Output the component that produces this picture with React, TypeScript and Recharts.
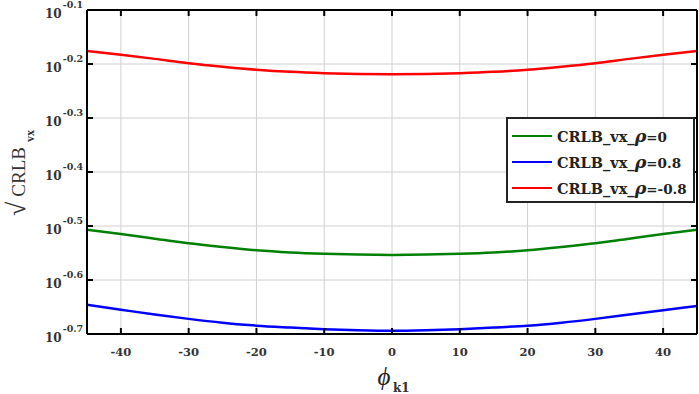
import React from 'react';
import { LineChart, Line, XAxis, YAxis, CartesianGrid, Legend } from 'recharts';

const phiValues = [-45, -40, -35, -30, -25, -20, -15, -10, -5, 0, 5, 10, 15, 20, 25, 30, 35, 40, 45];
// log10 of sqrt(CRLB_vx)
const rhoZero = [-0.507, -0.515, -0.5235, -0.532, -0.539, -0.545, -0.549, -0.5515, -0.553, -0.5535, -0.553, -0.5515, -0.549, -0.545, -0.539, -0.532, -0.5235, -0.515, -0.507];
const rhoPos = [-0.646, -0.655, -0.664, -0.672, -0.679, -0.6845, -0.688, -0.691, -0.693, -0.694, -0.693, -0.691, -0.688, -0.6845, -0.679, -0.672, -0.664, -0.656, -0.648];
const rhoNeg = [-0.176, -0.183, -0.1905, -0.1985, -0.205, -0.2105, -0.2145, -0.217, -0.2185, -0.219, -0.2185, -0.217, -0.2145, -0.2105, -0.205, -0.1985, -0.1905, -0.183, -0.176];

const xTicks = [-40, -30, -20, -10, 0, 10, 20, 30, 40];
const yTicks = [-0.7, -0.6, -0.5, -0.4, -0.3, -0.2, -0.1];
const yTickLabels = ['-0.7', '-0.6', '-0.5', '-0.4', '-0.3', '-0.2', '-0.1'];

const seriesNames = ['CRLB_vx_ρ=0', 'CRLB_vx_ρ=0.8', 'CRLB_vx_ρ=-0.8'];

const data = phiValues.map((p, i) => ({ phi: p, s0: rhoZero[i], s1: rhoPos[i], s2: rhoNeg[i] }));

const FONT = 'DejaVu Serif';

const BottomTick = (props: any) => {
  const { x, y, payload } = props;
  return (
    <g>
      <line x1={x} y1={y} x2={x} y2={y - 6} stroke="#000" strokeWidth={2} />
      <text x={x} y={y + 22} textAnchor="middle" fontFamily={FONT} fontSize={11.5} fontWeight="bold" fill="#333">
        {payload.value}
      </text>
    </g>
  );
};

const TopTick = (props: any) => {
  const { x, y } = props;
  return <line x1={x} y1={y} x2={x} y2={y + 6} stroke="#000" strokeWidth={2} />;
};

const LeftTick = (props: any) => {
  const { x, y, payload } = props;
  const idx = yTicks.findIndex((t) => Math.abs(t - payload.value) < 1e-9);
  const label = idx >= 0 ? yTickLabels[idx] : String(payload.value);
  return (
    <g>
      <line x1={x} y1={y} x2={x + 6} y2={y} stroke="#000" strokeWidth={2} />
      <text x={x - 42} y={y + 8} textAnchor="start" fontFamily={FONT} fontSize={12} fontWeight="bold" fill="#333">
        10
        <tspan dx={1} dy={-10} fontSize={9.5}>{label}</tspan>
      </text>
    </g>
  );
};

const RightTick = (props: any) => {
  const { x, y } = props;
  return <line x1={x} y1={y} x2={x - 6} y2={y} stroke="#000" strokeWidth={2} />;
};

const LegendContent = (props: any) => {
  const payload = [...(props.payload || [])].sort(
    (a: any, b: any) => seriesNames.indexOf(a.value) - seriesNames.indexOf(b.value)
  );
  return (
    <div
      style={{
        border: '2px solid #222',
        background: '#fff',
        width: 189,
        height: 86,
        boxSizing: 'border-box',
        paddingTop: 4,
      }}
    >
      {payload.map((entry: any) => {
        const name: string = entry.value;
        const parts = name.split('ρ');
        return (
          <div key={name} style={{ display: 'flex', alignItems: 'center', height: 26 }}>
            <div style={{ width: 40, height: 2.5, background: entry.color, marginLeft: 4, marginRight: 5 }} />
            <span style={{ fontFamily: FONT, fontSize: 14.5, fontWeight: 'bold', color: '#222', whiteSpace: 'nowrap' }}>
              {parts[0]}
              <span style={{ fontStyle: 'italic', fontSize: 17.5 }}>ρ</span>
              <span style={{ fontSize: 13.5 }}>{parts[1]}</span>
            </span>
          </div>
        );
      })}
    </div>
  );
};

const YLabel = () => (
  <g transform="translate(25, 216) rotate(-90)">
    <text x={0} y={0} fontFamily="Liberation Serif" fill="#333">
      <tspan fontSize={26}>√</tspan>
      <tspan dx={5} fontSize={19}>CRLB</tspan>
      <tspan dx={5} dy={9} fontSize={12} fontWeight="bold">vx</tspan>
    </text>
  </g>
);

const XLabel = () => (
  <g>
    <text x={384} y={385} textAnchor="middle" fontFamily="Liberation Serif" fontStyle="italic" fontSize={25} fill="#222">
      ϕ
    </text>
    <text x={393} y={392} textAnchor="start" fontFamily={FONT} fontSize={12} fontWeight="bold" fill="#333">
      k1
    </text>
  </g>
);

export default function App() {
  return (
    <div style={{ position: 'absolute', left: 0, top: 0, width: 699, height: 394, background: '#fff' }}>
      <LineChart width={699} height={394} data={data} margin={{ top: 9, right: 1, bottom: 59, left: 86 }}>
        <CartesianGrid stroke="#d0d0d0" strokeWidth={1} />
        <XAxis
          dataKey="phi"
          type="number"
          domain={[-45, 45]}
          ticks={xTicks}
          height={1}
          tickSize={0}
          tickMargin={0}
          tickLine={false}
          axisLine={{ stroke: '#000', strokeWidth: 2 }}
          tick={<BottomTick />}
          interval={0}
          allowDataOverflow
        />
        <XAxis
          xAxisId="top"
          orientation="top"
          dataKey="phi"
          type="number"
          domain={[-45, 45]}
          ticks={xTicks}
          height={1}
          tickSize={0}
          tickMargin={0}
          tickLine={false}
          axisLine={{ stroke: '#000', strokeWidth: 2 }}
          tick={<TopTick />}
          interval={0}
          allowDataOverflow
        />
        <YAxis
          type="number"
          domain={[-0.7, -0.1]}
          ticks={yTicks}
          width={1}
          tickSize={0}
          tickMargin={0}
          tickLine={false}
          axisLine={{ stroke: '#000', strokeWidth: 2 }}
          tick={<LeftTick />}
          interval={0}
          allowDataOverflow
        />
        <YAxis
          yAxisId="right"
          orientation="right"
          type="number"
          domain={[-0.7, -0.1]}
          ticks={yTicks}
          width={1}
          tickSize={0}
          tickMargin={0}
          tickLine={false}
          axisLine={{ stroke: '#000', strokeWidth: 2 }}
          tick={<RightTick />}
          interval={0}
          allowDataOverflow
        />
        <Line type="monotone" dataKey="s0" name={seriesNames[0]} stroke="#008000" strokeWidth={2.5} dot={false} isAnimationActive={false} />
        <Line type="monotone" dataKey="s1" name={seriesNames[1]} stroke="#0000ff" strokeWidth={2.5} dot={false} isAnimationActive={false} />
        <Line type="monotone" dataKey="s2" name={seriesNames[2]} stroke="#ff0000" strokeWidth={2.5} dot={false} isAnimationActive={false} />
        <Legend
          layout="horizontal"
          verticalAlign="middle"
          align="center"
          content={<LegendContent />}
          wrapperStyle={{ position: 'absolute', left: 506, top: 117, width: 189, height: 86 }}
        />
        <YLabel />
        <XLabel />
      </LineChart>
    </div>
  );
}
